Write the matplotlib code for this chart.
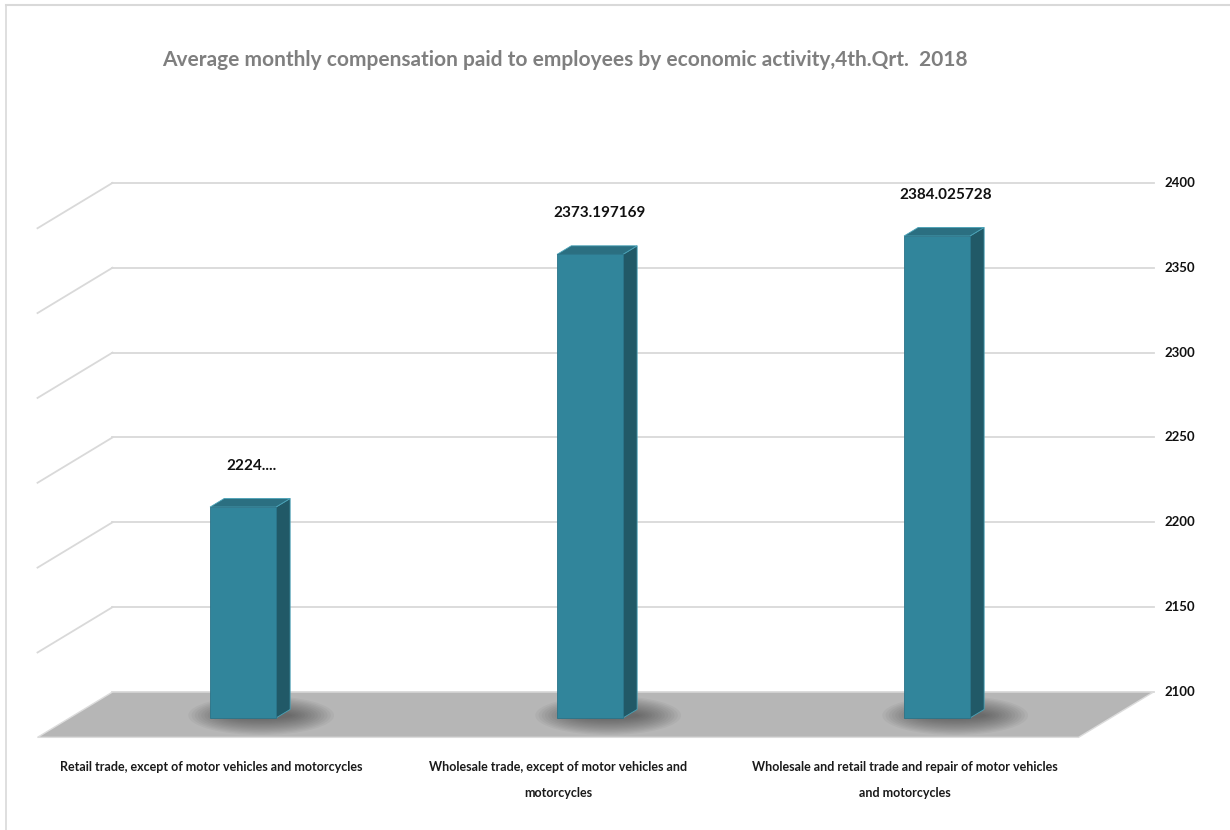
import matplotlib
matplotlib.use("Agg")
import matplotlib.pyplot as plt
from matplotlib.patches import Polygon, Ellipse
import numpy as np

# ---------------- data ----------------
categories = [
    "Retail trade, except of motor vehicles and motorcycles",
    "Wholesale trade, except of motor vehicles and\nmotorcycles",
    "Wholesale and retail trade and repair of motor vehicles\nand motorcycles",
]
values = [2224.3, 2373.197169, 2384.025728]
value_labels = ["2224....", "2373.197169", "2384.025728"]
title = "Average monthly compensation paid to employees by economic activity,4th.Qrt.  2018"
y_ticks = [2100, 2150, 2200, 2250, 2300, 2350, 2400]

# ---------------- style ----------------
FONT = ["Lato", "DejaVu Sans"]
plt.rcParams["font.family"] = FONT
FRONT = "#31859b"
SIDE = "#215967"
TOP = "#2b6f81"
EDGE = "#4aa3b8"
FLOOR = "#b6b6b6"
GRID = "#d9d9d9"

W, H = 1230, 830
fig = plt.figure(figsize=(W / 100, H / 100), dpi=100)
ax = fig.add_axes([0, 0, 1, 1])
ax.set_axis_off()

# pixel mapping of the bar plane: category c -> 243 + 347 c ; value v -> 112 + 1.697 (v-2100)
PX_CAT = 347.0
PX_VAL = 1.697
X0, Y0 = 243.0, 112.0
BASE = 2100
ax.set_xlim(-X0 / PX_CAT, (W - X0) / PX_CAT)
ax.set_ylim(BASE - Y0 / PX_VAL, BASE + (H - Y0) / PX_VAL)

# oblique depth projection: one depth unit = (43 px right, 26 px up)
DX = 43 / PX_CAT
DY = 26 / PX_VAL


def P(c, v, z):
    return (c + z * DX, v + z * DY)


C_LEFT, C_RIGHT = -0.5, 2.5
Z_BACK, Z_FRONT = 1.0, -0.744
BAR_W = 0.19
BAR_D = 0.33
x = np.arange(len(categories))

# chart frame
ax.plot([6 / PX_CAT - X0 / PX_CAT] * 2,
        [BASE - Y0 / PX_VAL, BASE + (H - 5 - Y0) / PX_VAL],
        color=GRID, lw=1.2, zorder=0)
ax.plot([6 / PX_CAT - X0 / PX_CAT, (W - X0) / PX_CAT],
        [BASE + (H - 5 - Y0) / PX_VAL] * 2, color=GRID, lw=1.5, zorder=0)

# back wall gridlines + side wall diagonals
for t in y_ticks:
    xa, ya = P(C_LEFT, t, Z_BACK)
    xb, yb = P(C_RIGHT, t, Z_BACK)
    ax.plot([xa, xb], [ya, yb], color=GRID, lw=1.3, zorder=1)
    if t > BASE:
        xc, yc = P(C_LEFT, t, Z_FRONT)
        ax.plot([xc, xa], [yc, ya], color=GRID, lw=1.3, zorder=1)
    ax.annotate(str(t), xy=(xb, yb), xytext=(11, 0), textcoords="offset pixels",
                ha="left", va="center", fontsize=9.5, fontweight="bold", color="#111111")

# floor
floor = Polygon([P(C_LEFT, BASE, Z_BACK), P(C_RIGHT, BASE, Z_BACK),
                 P(C_RIGHT, BASE, Z_FRONT), P(C_LEFT, BASE, Z_FRONT)],
                closed=True, facecolor=FLOOR, edgecolor="#dcdcdc", lw=1.0, zorder=2)
ax.add_patch(floor)

# soft shadows under bars
for c in x:
    cx, cy = P(c + 0.04, BASE, 0.1)
    for k in range(14):
        f = 1 - k / 14
        e = Ellipse((cx, cy), width=(0.16 + 0.26 * f), height=(3 + 20 * f),
                    facecolor="#303030", edgecolor="none", alpha=0.05, zorder=3)
        ax.add_patch(e)

# bars: side and top faces
for c, v in zip(x, values):
    side = Polygon([P(c + BAR_W / 2, BASE, 0), P(c + BAR_W / 2, v, 0),
                    P(c + BAR_W / 2, v, BAR_D), P(c + BAR_W / 2, BASE, BAR_D)],
                   closed=True, facecolor=SIDE, edgecolor=EDGE, lw=0.6, zorder=4)
    top = Polygon([P(c - BAR_W / 2, v, 0), P(c + BAR_W / 2, v, 0),
                   P(c + BAR_W / 2, v, BAR_D), P(c - BAR_W / 2, v, BAR_D)],
                  closed=True, facecolor=TOP, edgecolor=EDGE, lw=0.6, zorder=4)
    ax.add_patch(side)
    ax.add_patch(top)

# bars: front faces
ax.bar(x, [v - BASE for v in values], bottom=BASE, width=BAR_W,
       color=FRONT, edgecolor="#2a7388", linewidth=0.6, zorder=5)

# value labels
for c, v, lab in zip(x, values, value_labels):
    ax.annotate(lab, xy=(c, v), xytext=(9, 41), textcoords="offset pixels",
                ha="center", va="center", fontsize=11, fontweight="bold", color="#111111")

# category labels
for c, lab in zip(x, categories):
    xf, yf = P(c, BASE, Z_FRONT)
    ax.annotate(lab, xy=(xf, yf), xytext=(0, -24), textcoords="offset pixels",
                ha="center", va="top", fontsize=9, fontweight="bold", color="#1a1a1a",
                linespacing=2.35, multialignment="center")

# title
fig.text(565 / W, 1 - 60 / H, title, ha="center", va="center",
         fontsize=15, fontweight="bold", color="#7f7f7f")

fig.savefig("out.png", dpi=100)
